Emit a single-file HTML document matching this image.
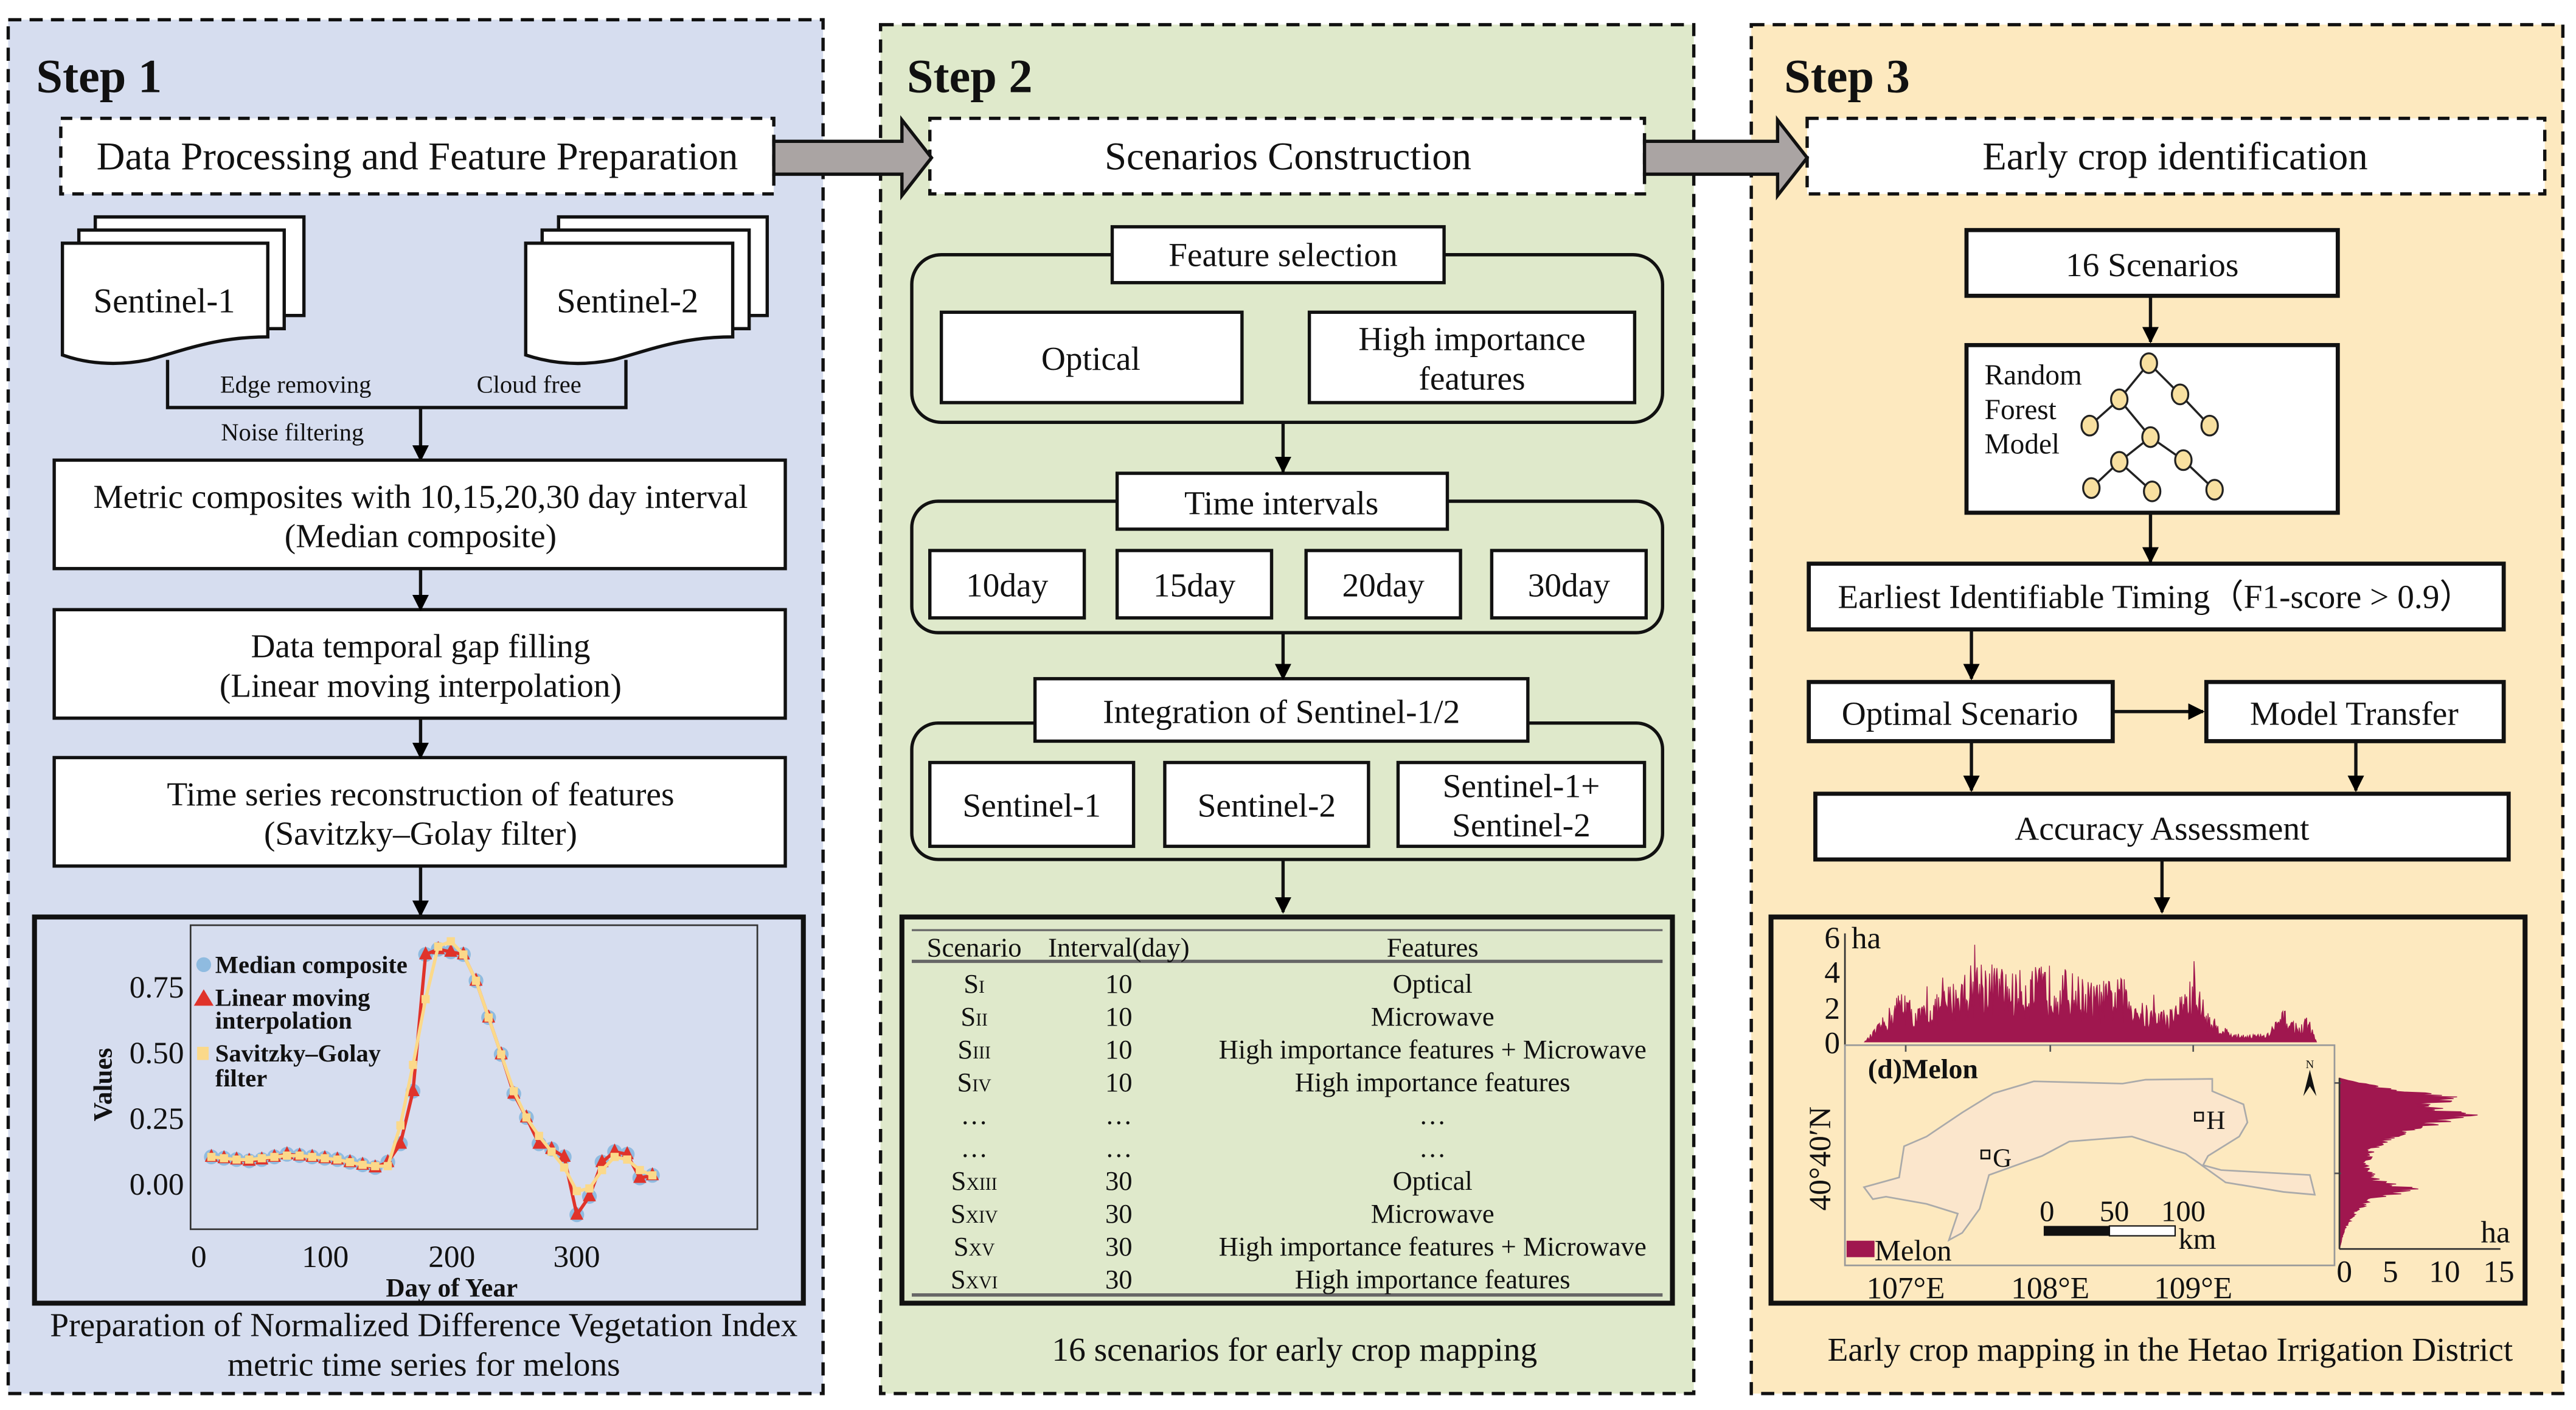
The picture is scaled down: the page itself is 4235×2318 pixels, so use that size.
<!DOCTYPE html>
<html><head><meta charset="utf-8"><style>
html,body{margin:0;padding:0;background:#fff;}
svg{display:block;}
text{font-family:"Liberation Serif",serif;fill:#111;}
</style></head><body>
<svg id="s" width="4235" height="2318" viewBox="0 0 1568 858" preserveAspectRatio="none" xmlns="http://www.w3.org/2000/svg">
<defs>
<marker id="ah" markerWidth="10" markerHeight="10" refX="9" refY="5" orient="auto" markerUnits="userSpaceOnUse"><path d="M0,0 L10,5 L0,10 Z" fill="#000"/></marker>
</defs>
<rect width="1568" height="858" fill="#fff"/>
<rect x="5" y="12" width="496" height="836" fill="#d6ddef" stroke="#111" stroke-width="2" stroke-dasharray="8,5"/>
<rect x="536" y="15" width="495" height="833" fill="#dfe9cb" stroke="#111" stroke-width="2" stroke-dasharray="8,5"/>
<rect x="1066" y="15" width="494" height="833" fill="#fde9bf" stroke="#111" stroke-width="2" stroke-dasharray="8,5"/>

<g font-size="29">
<text x="22" y="56" style="font-weight:bold">Step 1</text>
<text x="552" y="56" style="font-weight:bold">Step 2</text>
<text x="1086" y="56" style="font-weight:bold">Step 3</text>
</g>

<rect x="37" y="72" width="434" height="46" fill="#fff" stroke="#111" stroke-width="2" stroke-dasharray="7,5"/>
<text x="254" y="103" font-size="24" text-anchor="middle">Data Processing and Feature Preparation</text>
<rect x="566" y="72" width="435" height="46" fill="#fff" stroke="#111" stroke-width="2" stroke-dasharray="7,5"/>
<text x="784" y="103" font-size="24" text-anchor="middle">Scenarios Construction</text>
<rect x="1100" y="72" width="449" height="46" fill="#fff" stroke="#111" stroke-width="2" stroke-dasharray="7,5"/>
<text x="1324" y="103" font-size="24" text-anchor="middle">Early crop identification</text>

<path d="M471,86 H549 V73 L567,96 L549,119 V106 H471 Z" fill="#aaa4a3" stroke="#111" stroke-width="2"/>
<path d="M1001,86 H1082 V73 L1100,96 L1082,119 V106 H1001 Z" fill="#aaa4a3" stroke="#111" stroke-width="2"/>

<g fill="#fff" stroke="#111" stroke-width="2">
<path d="M58,132 H185 V192 H58 Z"/>
<path d="M48,140 H173 V200 H48 Z"/>
<path d="M38,148 H163 V205 C130,205 110,214 90,219 C70,223 52,221 38,216 Z"/>
<path d="M340,132 H467 V192 H340 Z"/>
<path d="M330,140 H456 V200 H330 Z"/>
<path d="M320,148 H446 V205 C413,205 393,214 373,219 C353,223 335,221 320,216 Z"/>
</g>
<text x="100" y="190" font-size="21" text-anchor="middle">Sentinel-1</text>
<text x="382" y="190" font-size="21" text-anchor="middle">Sentinel-2</text>
<path d="M102,219 V248 H381 V219" fill="none" stroke="#111" stroke-width="2"/>
<line x1="256" y1="248" x2="256" y2="280" stroke="#111" stroke-width="2" marker-end="url(#ah)"/>
<text x="180" y="239" font-size="15" text-anchor="middle">Edge removing</text>
<text x="322" y="239" font-size="15" text-anchor="middle">Cloud free</text>
<text x="178" y="268" font-size="15" text-anchor="middle">Noise filtering</text>

<g fill="#fff" stroke="#111" stroke-width="2">
<rect x="33" y="280" width="445" height="66"/>
<rect x="33" y="371" width="445" height="66"/>
<rect x="33" y="461" width="445" height="66"/>
</g>
<g font-size="20.5" text-anchor="middle">
<text x="256" y="309">Metric composites with 10,15,20,30 day interval</text>
<text x="256" y="333">(Median composite)</text>
<text x="256" y="400">Data temporal gap filling</text>
<text x="256" y="424">(Linear moving interpolation)</text>
<text x="256" y="490">Time series reconstruction of features</text>
<text x="256" y="514">(Savitzky–Golay filter)</text>
</g>
<g stroke="#111" stroke-width="2" marker-end="url(#ah)">
<line x1="256" y1="346" x2="256" y2="371"/>
<line x1="256" y1="437" x2="256" y2="461"/>
<line x1="256" y1="527" x2="256" y2="557"/>
</g>
<rect x="21" y="558" width="468" height="235" fill="none" stroke="#111" stroke-width="3"/>
<rect x="116" y="563" width="345" height="185" fill="none" stroke="#333" stroke-width="1"/>
<g id="chart"></g>
<g font-size="19" text-anchor="end">
<text x="112" y="607">0.75</text><text x="112" y="647">0.50</text><text x="112" y="687">0.25</text><text x="112" y="727">0.00</text>
</g>
<g font-size="19" text-anchor="middle">
<text x="121" y="771">0</text><text x="198" y="771">100</text><text x="275" y="771">200</text><text x="351" y="771">300</text>
</g>
<text x="275" y="789" font-size="16" text-anchor="middle" style="font-weight:bold">Day of Year</text>
<text transform="translate(68,660) rotate(-90)" font-size="16" text-anchor="middle" style="font-weight:bold">Values</text>
<g font-size="15" style="font-weight:bold">
<circle cx="124" cy="587" r="4.5" fill="#8fbbe0"/><text x="131" y="592">Median composite</text>
<path d="M118,612 L124,602 L130,612 Z" fill="#e0332a"/><text x="131" y="612">Linear moving</text><text x="131" y="626">interpolation</text>
<rect x="120" y="637" width="7" height="8" fill="#fbd98a"/><text x="131" y="646">Savitzky–Golay</text><text x="131" y="661">filter</text>
</g>
<text x="258" y="813" font-size="20.5" text-anchor="middle">Preparation of Normalized Difference Vegetation Index</text>
<text x="258" y="837" font-size="20.5" text-anchor="middle">metric time series for melons</text>

<g fill="none" stroke="#111" stroke-width="2">
<rect x="555" y="155" width="457" height="102" rx="18"/>
<rect x="555" y="305" width="457" height="80" rx="16"/>
<rect x="555" y="440" width="457" height="83" rx="16"/>
</g>
<g fill="#fff" stroke="#111" stroke-width="2">
<rect x="677" y="138" width="202" height="34"/>
<rect x="573" y="190" width="183" height="55"/>
<rect x="797" y="190" width="198" height="55"/>
<rect x="680" y="288" width="201" height="34"/>
<rect x="566" y="335" width="94" height="41"/>
<rect x="680" y="335" width="94" height="41"/>
<rect x="795" y="335" width="94" height="41"/>
<rect x="908" y="335" width="94" height="41"/>
<rect x="630" y="413" width="300" height="38"/>
<rect x="566" y="464" width="124" height="51"/>
<rect x="709" y="464" width="124" height="51"/>
<rect x="851" y="464" width="150" height="51"/>
</g>
<g font-size="20.5" text-anchor="middle">
<text x="781" y="162">Feature selection</text>
<text x="664" y="225">Optical</text>
<text x="896" y="213">High importance</text><text x="896" y="237">features</text>
<text x="780" y="313">Time intervals</text>
<text x="613" y="363">10day</text><text x="727" y="363">15day</text><text x="842" y="363">20day</text><text x="955" y="363">30day</text>
<text x="780" y="440">Integration of Sentinel-1/2</text>
<text x="628" y="497">Sentinel-1</text><text x="771" y="497">Sentinel-2</text>
<text x="926" y="485">Sentinel-1+</text><text x="926" y="509">Sentinel-2</text>
</g>
<g stroke="#111" stroke-width="2" marker-end="url(#ah)">
<line x1="781" y1="257" x2="781" y2="287"/>
<line x1="781" y1="385" x2="781" y2="413"/>
<line x1="781" y1="523" x2="781" y2="555"/>
</g>
<rect x="549" y="558" width="469" height="235" fill="none" stroke="#111" stroke-width="3"/>
<g stroke="#666" stroke-width="1.2">
<line x1="555" y1="566" x2="1012" y2="566"/>
<line x1="555" y1="585" x2="1012" y2="585" stroke-width="2"/>
<line x1="555" y1="788" x2="1012" y2="788" stroke-width="2"/>
</g>
<g font-size="16.5" text-anchor="middle" id="tbl">
<text x="593" y="582">Scenario</text><text x="681" y="582">Interval(day)</text><text x="872" y="582">Features</text>
</g>
<text x="788" y="828" font-size="20.5" text-anchor="middle">16 scenarios for early crop mapping</text>

<g fill="#fff" stroke="#111" stroke-width="2.5">
<rect x="1197" y="140" width="226" height="40"/>
<rect x="1197" y="210" width="226" height="102"/>
<rect x="1101" y="343" width="423" height="40"/>
<rect x="1101" y="415" width="185" height="36"/>
<rect x="1343" y="415" width="181" height="36"/>
<rect x="1105" y="483" width="422" height="40"/>
</g>
<g font-size="20.5" text-anchor="middle">
<text x="1310" y="168">16 Scenarios</text>
<text x="1312" y="370">Earliest Identifiable Timing（F1-score &gt; 0.9）</text>
<text x="1193" y="441">Optimal Scenario</text>
<text x="1433" y="441">Model Transfer</text>
<text x="1316" y="511">Accuracy Assessment</text>
</g>
<g font-size="17.5"><text x="1208" y="234">Random</text><text x="1208" y="255">Forest</text><text x="1208" y="276">Model</text></g>
<g stroke="#222" stroke-width="1.3">
<line x1="1308" y1="221" x2="1290" y2="243"/><line x1="1308" y1="221" x2="1327" y2="240"/>
<line x1="1290" y1="243" x2="1272" y2="259"/><line x1="1290" y1="243" x2="1309" y2="266"/>
<line x1="1327" y1="240" x2="1345" y2="259"/>
<line x1="1309" y1="266" x2="1290" y2="281"/><line x1="1309" y1="266" x2="1329" y2="280"/>
<line x1="1290" y1="281" x2="1273" y2="297"/><line x1="1290" y1="281" x2="1310" y2="299"/>
<line x1="1329" y1="280" x2="1348" y2="298"/>
</g>
<g fill="#f8e0a0" stroke="#222" stroke-width="1.2">
<ellipse cx="1308" cy="221" rx="5" ry="6"/><ellipse cx="1290" cy="243" rx="5" ry="6"/><ellipse cx="1327" cy="240" rx="5" ry="6"/>
<ellipse cx="1272" cy="259" rx="5" ry="6"/><ellipse cx="1309" cy="266" rx="5" ry="6"/><ellipse cx="1345" cy="259" rx="5" ry="6"/>
<ellipse cx="1290" cy="281" rx="5" ry="6"/><ellipse cx="1329" cy="280" rx="5" ry="6"/>
<ellipse cx="1273" cy="297" rx="5" ry="6"/><ellipse cx="1310" cy="299" rx="5" ry="6"/><ellipse cx="1348" cy="298" rx="5" ry="6"/>
</g>
<g stroke="#111" stroke-width="2" marker-end="url(#ah)">
<line x1="1309" y1="180" x2="1309" y2="208"/>
<line x1="1309" y1="312" x2="1309" y2="342"/>
<line x1="1200" y1="383" x2="1200" y2="413"/>
<line x1="1286" y1="433" x2="1341" y2="433"/>
<line x1="1200" y1="451" x2="1200" y2="481"/>
<line x1="1434" y1="451" x2="1434" y2="481"/>
<line x1="1316" y1="523" x2="1316" y2="555"/>
</g>
<rect x="1078" y="558" width="459" height="235" fill="none" stroke="#111" stroke-width="3"/>
<line x1="1123" y1="568" x2="1123" y2="636" stroke="#333" stroke-width="1"/>
<g font-size="19" text-anchor="end"><text x="1120" y="577">6</text><text x="1120" y="598">4</text><text x="1120" y="620">2</text><text x="1120" y="641">0</text></g>
<text x="1127" y="577" font-size="19">ha</text>
<g id="hist"></g>
<rect x="1123" y="636" width="298" height="134" fill="#fde9bf" stroke="#999" stroke-width="1"/>
<path d="M1134.6,722.4 L1156,716.5 L1159,697.5 L1172.7,691.6 L1194.4,677 L1213.4,665.3 L1238,658 L1292,659.4 L1306,657 L1346.6,656.5 L1346.6,664 L1365.6,672 L1368,683 L1363,691.6 L1344,703.4 L1341,709 L1352,712 L1406,715 L1409,727 L1390,725.3 L1354.7,719.5 L1330.3,702 L1297.7,691.6 L1259.6,694.6 L1243,703.4 L1210.7,715 L1205,735.6 L1194.4,750.2 L1186.3,754.6 L1191.7,738.5 L1172.7,732.6 L1148,728.2 L1140,729.7 Z" fill="#fbe6cc" stroke="#aaa" stroke-width="1"/>
<text x="1137" y="656" font-size="17" style="font-weight:bold">(d)Melon</text>
<path d="M1406,651 L1402,667 L1406,661 L1410,667 Z" fill="#111"/><text x="1406" y="650" font-size="7" text-anchor="middle">N</text>
<rect x="1336" y="677" width="5" height="5" fill="none" stroke="#111" stroke-width="1"/><text x="1343" y="687" font-size="16">H</text>
<rect x="1206" y="700" width="5" height="5" fill="none" stroke="#111" stroke-width="1"/><text x="1213" y="710" font-size="16">G</text>
<g font-size="18" text-anchor="middle"><text x="1246" y="743">0</text><text x="1287" y="743">50</text><text x="1329" y="743">100</text></g>
<rect x="1244" y="746" width="40" height="6" fill="#111"/><rect x="1284" y="746" width="40" height="6" fill="#fff" stroke="#111" stroke-width="0.8"/>
<text x="1326" y="760" font-size="18">km</text>
<rect x="1124" y="755" width="17" height="10" fill="#a0174f"/><text x="1141" y="767" font-size="18">Melon</text>
<g font-size="19" text-anchor="middle"><text x="1160" y="790">107°E</text><text x="1248" y="790">108°E</text><text x="1335" y="790">109°E</text></g>
<g stroke="#555" stroke-width="1">
<line x1="1160" y1="636" x2="1160" y2="640"/><line x1="1248" y1="636" x2="1248" y2="640"/><line x1="1335" y1="636" x2="1335" y2="640"/>
<line x1="1421" y1="659" x2="1425" y2="659"/><line x1="1421" y1="714" x2="1425" y2="714"/>
</g>
<text transform="translate(1114,705) rotate(-90)" font-size="19" text-anchor="middle">40°40′N</text>
<line x1="1424" y1="760" x2="1522" y2="760" stroke="#333" stroke-width="1"/>
<line x1="1424" y1="656" x2="1424" y2="760" stroke="#333" stroke-width="1"/>
<g font-size="19" text-anchor="middle"><text x="1427" y="780">0</text><text x="1455" y="780">5</text><text x="1488" y="780">10</text><text x="1521" y="780">15</text></g>
<text x="1510" y="756" font-size="19">ha</text>
<text x="1321" y="828" font-size="20.5" text-anchor="middle">Early crop mapping in the Hetao Irrigation District</text>
</svg>
<script>
(function(){
var NS="http://www.w3.org/2000/svg";
function el(p,t,a,txt){var e=document.createElementNS(NS,t);for(var k in a)e.setAttribute(k,a[k]);if(txt)e.textContent=txt;p.appendChild(e);return e;}
var raw=[.10,.095,.09,.085,.09,.10,.11,.105,.10,.095,.09,.08,.07,.06,.08,.15,.35,.87,.89,.88,.87,.77,.63,.49,.34,.25,.15,.13,.10,-.12,-.05,.08,.12,.11,.02,.03];
var sg=[.10,.095,.09,.09,.095,.10,.105,.105,.10,.095,.09,.08,.07,.065,.065,.22,.45,.70,.90,.92,.87,.77,.63,.49,.35,.25,.18,.12,.06,-.03,-.02,.05,.10,.09,.05,.03];
var c=document.getElementById("chart");
function X(d){return 121+d*0.767;} function Y(v){return 720-v*160;}
var p1="",p2="";
for(var i=0;i<raw.length;i++){var d=10+i*10;p1+=(i?"L":"M")+X(d)+","+Y(raw[i]);p2+=(i?"L":"M")+X(d)+","+Y(sg[i]);}
for(var i=0;i<raw.length;i++){el(c,"circle",{cx:X(10+i*10),cy:Y(raw[i]),r:4.5,fill:"#8fbbe0"});}
el(c,"path",{d:p1,fill:"none",stroke:"#e0332a","stroke-width":2});
for(var i=0;i<raw.length;i++){var x=X(10+i*10),y=Y(raw[i]);el(c,"path",{d:"M"+(x-4)+","+(y+3)+"L"+x+","+(y-5)+"L"+(x+4)+","+(y+3)+"Z",fill:"#e0332a"});}
el(c,"path",{d:p2,fill:"none",stroke:"#fbd98a","stroke-width":2});
for(var i=0;i<sg.length;i++){var x=X(10+i*10),y=Y(sg[i]);el(c,"rect",{x:x-2.5,y:y-2.5,width:5,height:5,fill:"#fbd98a"});}
var t=document.getElementById("tbl");
var rows=[["I","10","Optical"],["II","10","Microwave"],["III","10","High importance features + Microwave"],["IV","10","High importance features"],["…","…","…"],["…","…","…"],["XIII","30","Optical"],["XIV","30","Microwave"],["XV","30","High importance features + Microwave"],["XVI","30","High importance features"]];
rows.forEach(function(r,i){var y=604+i*20;
 if(r[0]=="…")el(t,"text",{x:593,y:y},"…");else{var e=el(t,"text",{x:593,y:y});var a=document.createElementNS(NS,"tspan");a.textContent="S";e.appendChild(a);var b=document.createElementNS(NS,"tspan");b.setAttribute("font-size","11");b.textContent=r[0];e.appendChild(b);}
 el(t,"text",{x:681,y:y},r[1]);el(t,"text",{x:872,y:y},r[2]);});
var h=document.getElementById("hist");
var s=12345;function rnd(){s=(s*16807)%2147483647;return s/2147483647;}
function interp(pts,x){for(var i=0;i<pts.length-1;i++){if(x>=pts[i][0]&&x<=pts[i+1][0]){var f=(x-pts[i][0])/(pts[i+1][0]-pts[i][0]);return pts[i][1]+f*(pts[i+1][1]-pts[i][1]);}}return 0;}
var tp=[[1135,0],[1145,0.8],[1159,2.2],[1165,1.2],[1180,1.8],[1205,3.2],[1225,2.6],[1250,2.9],[1275,2.2],[1292,2.4],[1305,1.4],[1320,1.2],[1336,2.5],[1345,1.0],[1360,0.3],[1380,0.3],[1390,1.2],[1400,0.6],[1405,1.0],[1410,0]];
var d="M1135,634";
for(var x=1135;x<=1410;x+=0.5){var v=interp(tp,x)*(0.45+1.1*rnd());if(rnd()<0.03)v*=1.5;d+="L"+x.toFixed(1)+","+(634-v*10.7).toFixed(1);}
d+="L1410,634Z";
el(h,"path",{d:d,fill:"#a0174f",stroke:"#a0174f","stroke-width":0.5});
var rt=[[656,0],[662,4],[668,11],[673,8],[679,12.5],[685,8],[692,5],[700,3],[710,2.5],[718,3.5],[724,7],[730,3],[738,1.5],[748,0.5],[760,0]];
var d2="M1424,656";
for(var y=656;y<=760;y+=0.5){var v=interp(rt,y)*(0.8+0.35*rnd());d2+="L"+(1424+v*6.27).toFixed(1)+","+y.toFixed(1);}
d2+="L1424,760Z";
el(h,"path",{d:d2,fill:"#a0174f",stroke:"#a0174f","stroke-width":0.5});
})();
</script>
</body></html>
